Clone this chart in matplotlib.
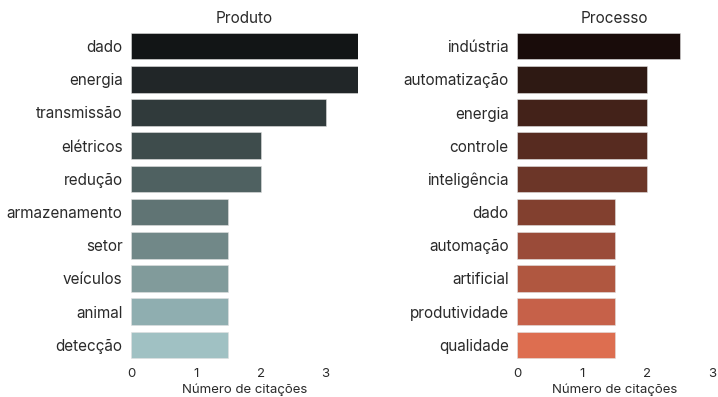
import matplotlib
matplotlib.use("Agg")
import matplotlib.pyplot as plt

plt.rcParams['font.family'] = ['Inter', 'DejaVu Sans']

# dados
produto_termos = ["dado", "energia", "transmissão", "elétricos", "redução",
                  "armazenamento", "setor", "veículos", "animal", "detecção"]
produto_valores = [3.5, 3.5, 3.0, 2.0, 2.0, 1.5, 1.5, 1.5, 1.5, 1.5]
produto_cores = ["#121516", "#212628", "#303a3b", "#3e4c4c", "#4f6161",
                 "#607474", "#718888", "#819b9b", "#8faeb0", "#a0c1c3"]

processo_termos = ["indústria", "automatização", "energia", "controle", "inteligência",
                   "dado", "automação", "artificial", "produtividade", "qualidade"]
processo_valores = [2.5, 2.0, 2.0, 2.0, 2.0, 1.5, 1.5, 1.5, 1.5, 1.5]
processo_cores = ["#190c0a", "#2e1913", "#432219", "#572b20", "#6c3628",
                  "#82402f", "#9a4b39", "#b05740", "#c66149", "#dd6e50"]

fig = plt.figure(figsize=(7.18, 3.97), dpi=100)
W, H = 718, 397

def painel(rect, termos, valores, cores, titulo, xmax):
    ax = fig.add_axes(rect)
    ypos = list(range(len(termos)))
    ax.barh(ypos, valores, height=0.8, color=cores, edgecolor="#e0e0e0", linewidth=0.4)
    ax.set_yticks(ypos)
    ax.set_yticklabels(termos, fontsize=11, color="#2a2a2a")
    ax.set_ylim(len(termos) - 0.5, -0.5)
    ax.set_xlim(0, xmax)
    ax.set_xticks([0, 1, 2, 3])
    ax.tick_params(axis="both", length=0)
    ax.tick_params(axis="x", labelsize=9.5, colors="#2a2a2a", pad=5)
    ax.tick_params(axis="y", pad=6)
    for s in ax.spines.values():
        s.set_visible(False)
    ax.set_xlabel("Número de citações", fontsize=9.5, color="#2a2a2a", labelpad=2)
    ax.set_title(titulo, fontsize=11, color="#2a2a2a", pad=5)
    return ax

painel([131 / W, 35.5 / H, 227 / W, 332 / H], produto_termos, produto_valores,
       produto_cores, "Produto", 3.5)
painel([517 / W, 35.5 / H, 195 / W, 332 / H], processo_termos, processo_valores,
       processo_cores, "Processo", 3.0)

fig.savefig("out.png", dpi=100)
